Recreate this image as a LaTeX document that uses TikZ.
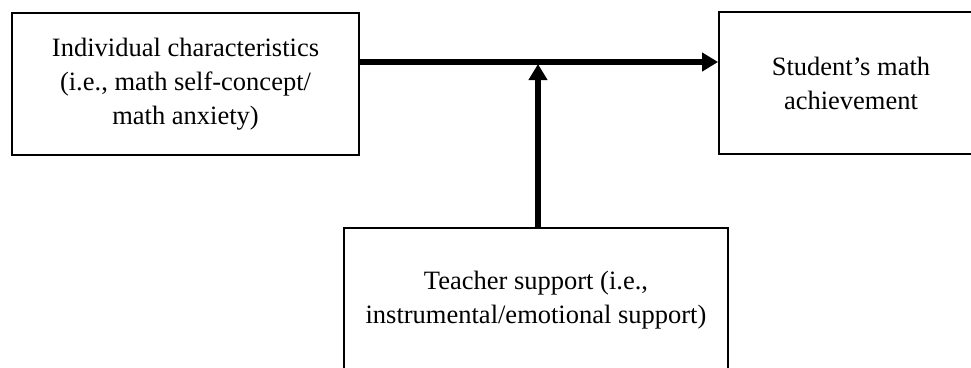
\documentclass[tikz,border=0pt]{standalone}
\usepackage{fontspec}
\setmainfont{Liberation Serif}
\usetikzlibrary{arrows.meta}
\begin{document}
\begin{tikzpicture}[x=1pt,y=-1pt,
  box/.style={draw=black,line width=1.8pt,rectangle,inner sep=0pt,align=center,
    font=\fontsize{26.5}{34}\selectfont},
  conn/.style={line width=5.5pt,-{Triangle[length=16pt,width=18pt]}}]
\clip (0,0) rectangle (971,367);
\useasboundingbox (0,0) rectangle (971,367);
\node[box,minimum width=347pt,minimum height=142pt] (ind) at (185.5,84)
  {Individual characteristics\\(i.e., math self-concept/\\math anxiety)};
\node[box,minimum width=264pt,minimum height=142pt] (ach) at (851,83)
  {Student’s math\\achievement};
\node[box,minimum width=384pt,minimum height=144pt] (tea) at (536,300)
  {Teacher support (i.e.,\\instrumental/emotional support)};
\coordinate (j) at (538,62);
\coordinate (jt) at (538,64);
\draw[conn] (ind.east |- j) -- (ach.west |- j);
\draw[conn] (tea.north -| j) -- (jt);
\end{tikzpicture}
\end{document}
